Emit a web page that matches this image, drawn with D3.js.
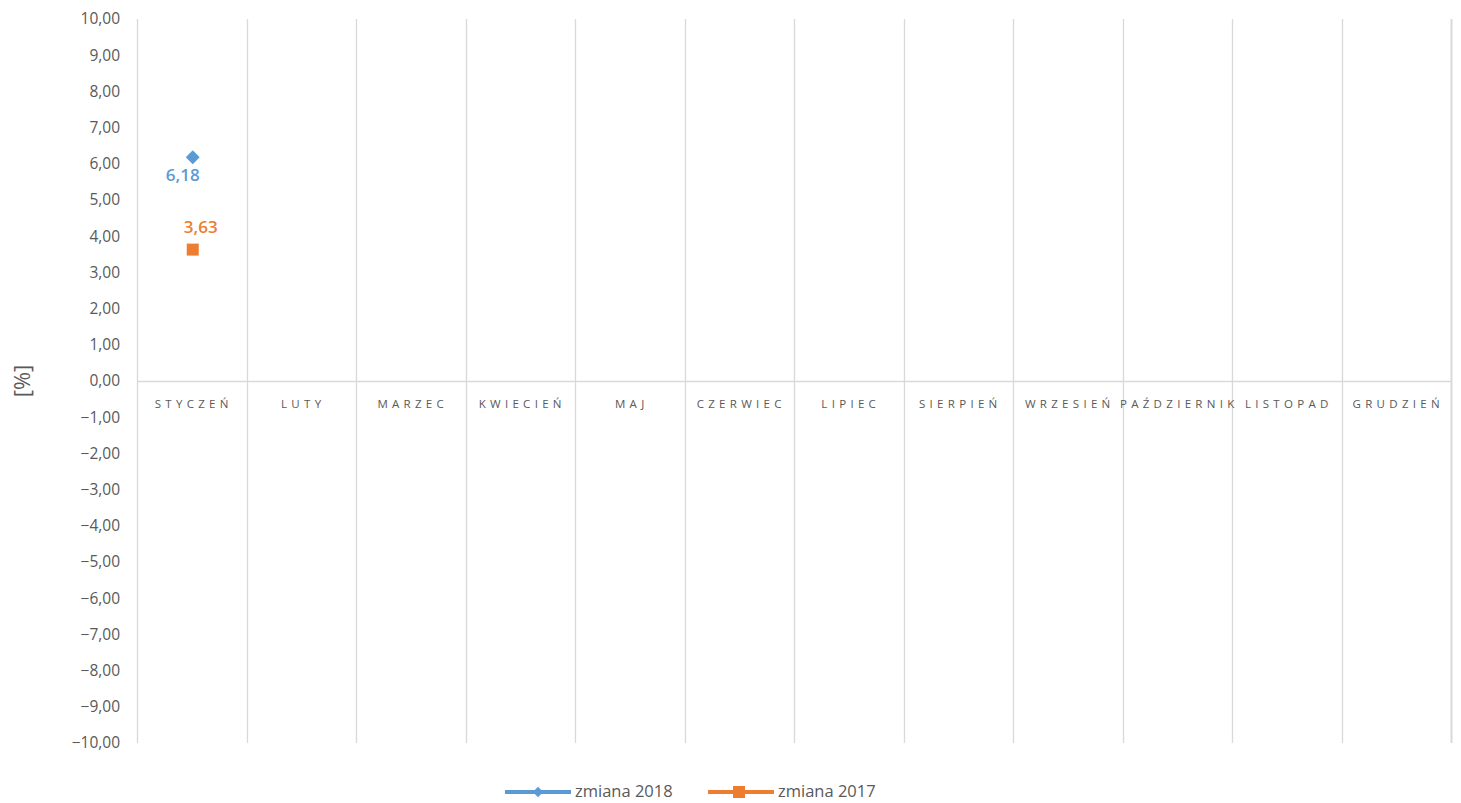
<!DOCTYPE html>
<html><head><meta charset="utf-8">
<script src="https://cdn.jsdelivr.net/npm/d3@7"></script>
<style>body{margin:0;background:#fff}svg{display:block}</style>
</head><body>
<svg id="c" width="1461" height="803"></svg>
<script>
const months = ["STYCZEŃ","LUTY","MARZEC","KWIECIEŃ","MAJ","CZERWIEC","LIPIEC","SIERPIEŃ","WRZESIEŃ","PAŹDZIERNIK","LISTOPAD","GRUDZIEŃ"];
const values2018 = [6.18];
const values2017 = [3.63];
const yTicks = [10,9,8,7,6,5,4,3,2,1,0,-1,-2,-3,-4,-5,-6,-7,-8,-9,-10];
const seriesNames = ["zmiana 2018","zmiana 2017"];
const colors = ["#5B9BD5","#ED7D31"];

const svg = d3.select("#c");
const L = 137, R = 1451, T = 19, B = 743;
const x = d3.scaleBand().domain(months).range([L, R]);
const y = d3.scaleLinear().domain([-10, 10]).range([B, T]);
const fmt = v => d3.format(".2f")(v).replace(".", ",");
const font = "'Open Sans', 'Liberation Sans', sans-serif";
const dia = d3.symbol().type(d3.symbolDiamond2 || d3.symbolSquare).size(90);

// vertical gridlines at category boundaries
const bounds = months.map(m => x(m)).concat([R]);
svg.append("g").selectAll("line").data(bounds).join("line")
  .attr("x1", d => Math.round(d) + 0.5).attr("x2", d => Math.round(d) + 0.5)
  .attr("y1", T).attr("y2", B)
  .attr("stroke", "#d9d9d9").attr("stroke-width", (d, i) => i === bounds.length - 1 ? 2 : 1.3);

// zero axis line
svg.append("line").attr("x1", L).attr("x2", R).attr("y1", Math.round(y(0)) + 0.5).attr("y2", Math.round(y(0)) + 0.5)
  .attr("stroke", "#d9d9d9").attr("stroke-width", 1.3);

// y axis labels
svg.append("g").selectAll("text").data(yTicks).join("text")
  .attr("x", 120).attr("y", d => y(d)).attr("dy", "0.35em")
  .attr("text-anchor", "end").attr("font-family", font).attr("font-size", 15.5)
  .attr("fill", "#595959").text(fmt);

// category labels
svg.append("g").selectAll("text").data(months).join("text")
  .attr("x", d => x(d) + x.bandwidth() / 2 + 2).attr("y", 404).attr("dy", "0.35em")
  .attr("text-anchor", "middle").attr("font-family", font).attr("font-size", 11.5)
  .attr("letter-spacing", "4.3px").attr("fill", "#595959").text(d => d);

// y title
svg.append("text").attr("transform", `translate(22,${y(0)}) rotate(-90)`)
  .attr("text-anchor", "middle").attr("dy", "0.35em")
  .attr("font-family", font).attr("font-size", 22).attr("fill", "#595959").text("[%]");

// series 2018 (diamond)
svg.append("g").selectAll("path").data(values2018).join("path")
  .attr("d", dia)
  .attr("transform", (d, i) => `translate(${x(months[i]) + x.bandwidth() / 2 + 1},${y(d)})`)
  .attr("fill", colors[0]).attr("stroke", colors[0]).attr("stroke-width", 1.5).attr("stroke-linejoin", "round");
svg.append("g").selectAll("text").data(values2018).join("text")
  .attr("x", (d, i) => x(months[i]) + x.bandwidth() / 2 - 9).attr("y", d => y(d) + 18).attr("dy", "0.35em")
  .attr("text-anchor", "middle").attr("font-family", font).attr("font-size", 17).attr("font-weight", 600)
  .attr("fill", colors[0]).text(fmt);

// series 2017 (square)
svg.append("g").selectAll("rect").data(values2017).join("rect")
  .attr("x", (d, i) => x(months[i]) + x.bandwidth() / 2 - 5).attr("y", d => y(d) - 6)
  .attr("width", 12).attr("height", 12).attr("fill", colors[1]);
svg.append("g").selectAll("text").data(values2017).join("text")
  .attr("x", (d, i) => x(months[i]) + x.bandwidth() / 2 + 9).attr("y", d => y(d) - 23).attr("dy", "0.35em")
  .attr("text-anchor", "middle").attr("font-family", font).attr("font-size", 17).attr("font-weight", 600)
  .attr("fill", colors[1]).text(fmt);

// legend
const leg = [{x0: 505, name: seriesNames[0], c: colors[0], m: "d"}, {x0: 708, name: seriesNames[1], c: colors[1], m: "s"}];
const ly = 792;
leg.forEach(l => {
  svg.append("line").attr("x1", l.x0).attr("x2", l.x0 + 66).attr("y1", ly).attr("y2", ly)
    .attr("stroke", l.c).attr("stroke-width", 4);
  if (l.m === "d") {
    svg.append("path").attr("d", d3.symbol().type(d3.symbolDiamond2 || d3.symbolSquare).size(70))
      .attr("transform", `translate(${l.x0 + 33},${ly})`).attr("fill", l.c);
  } else {
    svg.append("rect").attr("x", l.x0 + 25).attr("y", ly - 6).attr("width", 12).attr("height", 12).attr("fill", l.c);
  }
  svg.append("text").attr("x", l.x0 + 70).attr("y", ly).attr("dy", "0.32em")
    .attr("font-family", font).attr("font-size", 16.5).attr("fill", "#595959").text(l.name);
});
</script>
</body></html>
